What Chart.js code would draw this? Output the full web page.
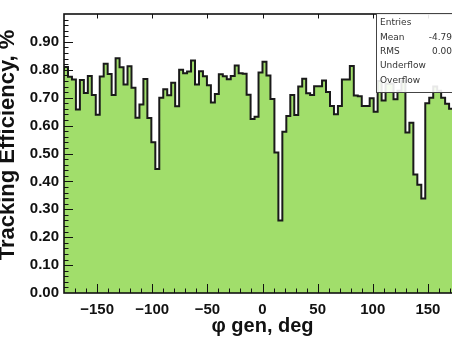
<!DOCTYPE html>
<html>
<head>
<meta charset="utf-8">
<script src="https://cdn.jsdelivr.net/npm/chart.js@4.4.1/dist/chart.umd.min.js"></script>
<style>
    html, body { margin: 0; padding: 0; background: #fff; overflow: hidden; }
    body { width: 452px; height: 338px; position: relative; }
    #wrap { position: absolute; left: -14px; top: 0; width: 496px; height: 338px; }
</style>
</head>
<body>
<div id="wrap"><canvas id="effChart" width="496" height="338"></canvas></div>
<script>
// histogram binning: 100 bins over the full phi range
const phiMin = -180;
const phiMax = 180;
const nBins = 100;

// tracking efficiency per bin
const efficiency = [
    0.800, 0.810, 0.775, 0.765, 0.658, 0.763, 0.717, 0.778, 0.710, 0.639,
    0.776, 0.822, 0.785, 0.710, 0.841, 0.809, 0.747, 0.813, 0.736, 0.628,
    0.676, 0.767, 0.627, 0.540, 0.444, 0.700, 0.730, 0.709, 0.754, 0.669,
    0.800, 0.788, 0.794, 0.833, 0.747, 0.795, 0.777, 0.745, 0.683, 0.713,
    0.784, 0.777, 0.766, 0.778, 0.815, 0.788, 0.786, 0.711, 0.624, 0.632,
    0.790, 0.829, 0.780, 0.695, 0.504, 0.260, 0.578, 0.634, 0.710, 0.638,
    0.740, 0.768, 0.716, 0.710, 0.741, 0.741, 0.762, 0.720, 0.670, 0.641,
    0.670, 0.765, 0.765, 0.814, 0.708, 0.705, 0.670, 0.670, 0.698, 0.650,
    0.760, 0.690, 0.750, 0.750, 0.694, 0.725, 0.760, 0.575, 0.610, 0.425,
    0.388, 0.339, 0.680, 0.700, 0.740, 0.725, 0.700, 0.678, 0.660, 0.655
];

const xTicks = [-150, -100, -50, 0, 50, 100, 150];
const yTicks = [0, 0.1, 0.2, 0.3, 0.4, 0.5, 0.6, 0.7, 0.8, 0.9];

const xTitle = 'φ gen, deg';
const yTitle = 'Tracking Efficiency, %';

const statNames = ['Entries', 'Mean', 'RMS', 'Underflow', 'Overflow'];
const statValues = ['', '-4.79', '0.00', '', ''];

const fillColor = '#a1de6b';
const lineColor = '#1a1a1a';
const fontFamily = '"Liberation Sans", Arial, sans-serif';

// step points: low edge of each bin, plus the closing edge
function histPoints() {
    const w = (phiMax - phiMin) / nBins;
    const pts = efficiency.map((v, i) => ({ x: phiMin + i * w, y: v }));
    pts.push({ x: phiMax, y: efficiency[efficiency.length - 1] });
    return pts;
}

// frame with inward ticks on the bottom, left and top edges
const frameTicks = {
    id: 'frameTicks',
    afterDatasetsDraw(chart) {
        const { ctx, chartArea: a, scales } = chart;
        const xs = scales.x, ys = scales.y;
        ctx.save();
        ctx.strokeStyle = '#111';
        ctx.lineWidth = 1;
        ctx.beginPath();
        for (let v = -170; v <= 170; v += 10) {
            const px = Math.round(xs.getPixelForValue(v)) + 0.5;
            const len = v % 50 === 0 ? 9 : 4.5;
            ctx.moveTo(px, a.bottom); ctx.lineTo(px, a.bottom - len);
            if (v % 50 === 0) { ctx.moveTo(px, a.top); ctx.lineTo(px, a.top + 4.5); }
        }
        for (let k = 1; k < 50; k++) {
            const v = k * 0.02;
            const py = Math.round(ys.getPixelForValue(v)) + 0.5;
            const len = k % 5 === 0 ? 9 : 4.5;
            ctx.moveTo(a.left, py); ctx.lineTo(a.left + len, py);
        }
        ctx.stroke();
        ctx.lineWidth = 1.6;
        ctx.strokeRect(a.left, a.top, a.right - a.left, a.bottom - a.top);
        ctx.restore();
    }
};

// rotated y title, partly running off the left edge of the canvas
const yTitlePlugin = {
    id: 'yTitle',
    afterDraw(chart) {
        const ctx = chart.ctx;
        ctx.save();
        ctx.translate(28, 145);
        ctx.rotate(-Math.PI / 2);
        ctx.font = 'bold 22px ' + fontFamily;
        ctx.fillStyle = '#111';
        ctx.textAlign = 'center';
        ctx.textBaseline = 'alphabetic';
        ctx.fillText(yTitle, 0, 0);
        ctx.restore();
    }
};

// statistics box in the top right corner
const statsBox = {
    id: 'statsBox',
    afterDraw(chart) {
        const { ctx, chartArea: a } = chart;
        const x0 = 390, y0 = a.top - 1, w = 110, h = 79;
        ctx.save();
        ctx.fillStyle = 'rgba(255,255,255,0.9)';
        ctx.fillRect(x0, y0, w, h);
        ctx.strokeStyle = '#444';
        ctx.lineWidth = 1;
        ctx.strokeRect(x0 + 0.5, y0 + 0.5, w, h);
        ctx.font = '9px "DejaVu Sans"';
        ctx.fillStyle = '#333';
        ctx.textBaseline = 'middle';
        statNames.forEach((name, i) => {
            const ty = y0 + 10 + i * 14.3;
            ctx.textAlign = 'left';
            ctx.fillText(name, x0 + 4, ty);
            ctx.textAlign = 'right';
            ctx.fillText(statValues[i], 466, ty);
        });
        ctx.restore();
    }
};

const tickFont = { family: fontFamily, size: 15, weight: 'bold' };
const titleFont = { family: fontFamily, size: 20, weight: 'bold', lineHeight: 1.2 };

new Chart(document.getElementById('effChart'), {
    type: 'line',
    data: {
        datasets: [{
            data: histPoints(),
            stepped: 'after',
            fill: 'origin',
            backgroundColor: fillColor,
            borderColor: lineColor,
            borderWidth: 2,
            pointRadius: 0,
            tension: 0
        }]
    },
    options: {
        responsive: false,
        animation: false,
        layout: { padding: { top: 8, right: 21, bottom: 0, left: 0 } },
        plugins: {
            legend: { display: false },
            tooltip: { enabled: false }
        },
        scales: {
            x: {
                type: 'linear',
                min: phiMin,
                max: phiMax,
                afterBuildTicks: s => { s.ticks = xTicks.map(v => ({ value: v })); },
                afterFit: s => { s.height = 45; },
                grid: { display: false, drawTicks: false },
                border: { display: false },
                ticks: {
                    font: tickFont,
                    color: '#111',
                    padding: 8,
                    maxRotation: 0,
                    callback: v => (v < 0 ? '\u2212' + Math.abs(v) : String(v))
                },
                title: { display: true, text: xTitle, font: titleFont, color: '#111', padding: { top: 0, bottom: 0 } }
            },
            y: {
                min: 0,
                max: 1,
                afterBuildTicks: s => { s.ticks = yTicks.map(v => ({ value: v })); },
                afterFit: s => { s.width = 78; },
                grid: { display: false, drawTicks: false },
                border: { display: false },
                ticks: {
                    font: tickFont,
                    color: '#111',
                    padding: 5,
                    callback: v => v.toFixed(2)
                }
            }
        }
    },
    plugins: [frameTicks, yTitlePlugin, statsBox]
});
</script>
</body>
</html>
